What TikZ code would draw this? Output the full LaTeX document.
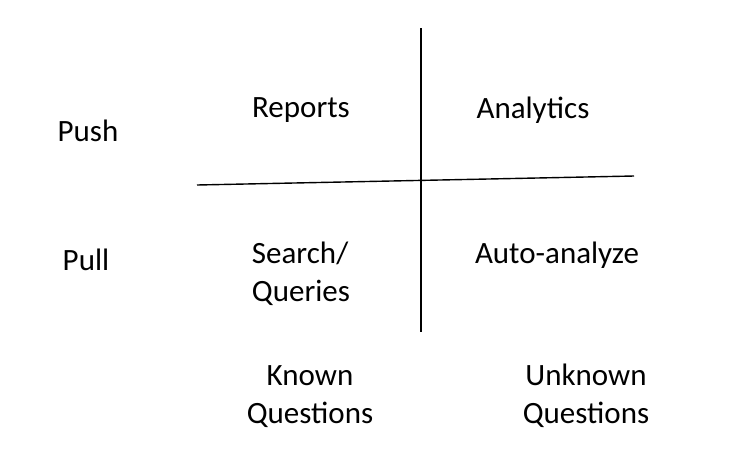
\documentclass[tikz,border=0pt]{standalone}
\usepackage{fontspec}
\setmainfont{Carlito}
\begin{document}
\begin{tikzpicture}[x=1pt,y=-1pt,
  lbl/.style={font=\fontsize{31}{38}\selectfont, anchor=base, inner sep=0pt, align=center},
  axis/.style={line width=1.4pt, black}]
\useasboundingbox (0,0) rectangle (755,448);
\coordinate (vtop) at (421,28);
\coordinate (vbot) at (421,332);
\coordinate (hl) at (197,185);
\coordinate (hr) at (634,176);
\draw[axis] (vtop) -- (vbot);
\draw[axis] (hl) -- (hr);
\node[lbl] (push) at (88,141) {Push};
\node[lbl] (pull) at (86,270) {Pull};
\node[lbl] (reports) at (301,117) {Reports};
\node[lbl] (analytics) at (533,118) {Analytics};
\node[lbl, align=left] (search) at (301,301) {Search/\\Queries};
\node[lbl] (auto) at (557,263) {Auto-analyze};
\node[lbl] (known) at (310,423) {Known\\Questions};
\node[lbl] (unknown) at (586,423) {Unknown\\Questions};
\end{tikzpicture}
\end{document}
